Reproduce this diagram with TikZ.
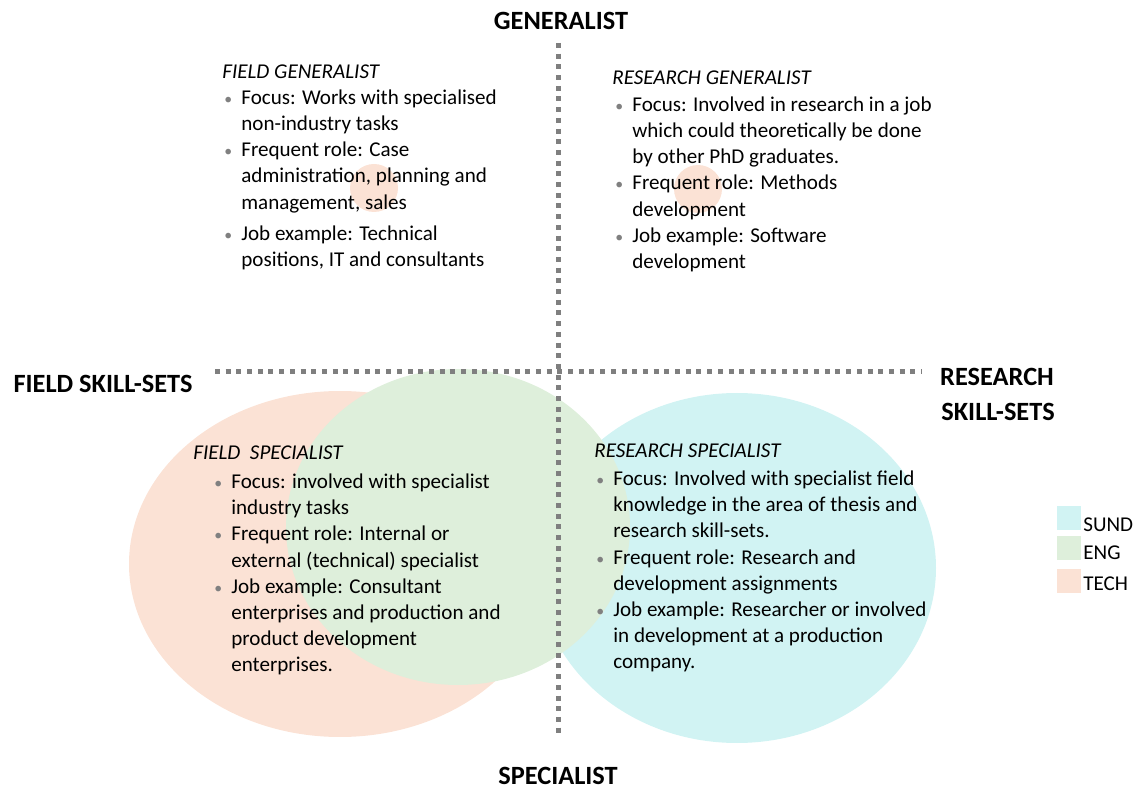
\documentclass[tikz,border=0pt]{standalone}
\usepackage{fontspec}
\setmainfont{Carlito}
\definecolor{techfill}{HTML}{FBE2D5}
\definecolor{engfill}{HTML}{DEEFDB}
\definecolor{sundfill}{HTML}{D1F3F3}
\definecolor{axisgray}{HTML}{7F7F7F}
\definecolor{bulletgray}{HTML}{808080}
\newcommand{\itm}[1]{\makebox[0.34cm][l]{\textcolor{bulletgray}{\fontsize{9}{9}\selectfont\textbullet}}#1}
\newcommand{\cnt}[1]{\hspace*{0.34cm}#1}
\tikzset{
  axisline/.style={draw=axisgray, line width=0.1cm, dash pattern=on 0.1cm off 0.114cm},
  axislabel/.style={inner sep=0pt, font=\fontsize{15}{18}\selectfont\bfseries},
  blockhead/.style={anchor=west, inner sep=0pt, font=\fontsize{12}{14.8}\selectfont\itshape},
  blocklist/.style={anchor=north west, inner sep=0pt, align=left, font=\fontsize{12}{14.8}\selectfont},
  legendtext/.style={anchor=base west, inner sep=0pt, font=\fontsize{12}{14.8}\selectfont}
}
\begin{document}
\begin{tikzpicture}[x=0.02cm, y=-0.02cm]
  \useasboundingbox (0,0) rectangle (1137,787);
  %%%%% START %%%%%
  % skill-set areas
  \fill[techfill] (340,564) ellipse (211 and 173);
  \fill[sundfill] (737,568) ellipse (199 and 175);
  \fill[engfill] (458,527) ellipse (172 and 158);
  \fill[techfill] (374,188) circle (24);
  \fill[techfill] (698,189) circle (24);

  % axes
  \draw[axisline] (558,43) -- (558,733);
  \draw[axisline] (215,372) -- (922,372);

  \node[axislabel] (generalist) at (561,21) {GENERALIST};
  \node[axislabel] (specialist) at (558,776) {SPECIALIST};
  \node[axislabel] (fieldskill) at (103,384) {FIELD SKILL-SETS};
  \node[axislabel] (researchskill) at (997,377) {RESEARCH};
  \node[axislabel] (researchskilltwo) at (998,412) {SKILL-SETS};

  % field generalist
  \node[blockhead] (fgenhead) at (222,72) {FIELD GENERALIST};
  \node[blocklist] (fgenlist) at (224,90) {%
    \itm{Focus: Works with specialised}\\
    \cnt{non-industry tasks}\\
    \itm{Frequent role: Case}\\
    \cnt{administration, planning and}\\
    \cnt{management, sales}\\[0.1cm]
    \itm{Job example: Technical}\\
    \cnt{positions, IT and consultants}};

  % research generalist
  \node[blockhead] (rgenhead) at (612,78) {RESEARCH GENERALIST};
  \node[blocklist] (rgenlist) at (615,97) {%
    \itm{Focus: Involved in research in a job}\\
    \cnt{which could theoretically be done}\\
    \cnt{by other PhD graduates.}\\
    \itm{Frequent role: Methods}\\
    \cnt{development}\\
    \itm{Job example: Software}\\
    \cnt{development}};

  % field specialist
  \node[blockhead] (fspechead) at (193,453) {FIELD\ \ SPECIALIST};
  \node[blocklist] (fspeclist) at (214,474) {%
    \itm{Focus: involved with specialist}\\
    \cnt{industry tasks}\\
    \itm{Frequent role: Internal or}\\
    \cnt{external (technical) specialist}\\
    \itm{Job example: Consultant}\\
    \cnt{enterprises and production and}\\
    \cnt{product development}\\
    \cnt{enterprises.}};

  % research specialist
  \node[blockhead] (rspechead) at (594,451) {RESEARCH SPECIALIST};
  \node[blocklist] (rspeclist) at (596,471) {%
    \itm{Focus: Involved with specialist field}\\
    \cnt{knowledge in the area of thesis and}\\
    \cnt{research skill-sets.}\\
    \itm{Frequent role: Research and}\\
    \cnt{development assignments}\\
    \itm{Job example: Researcher or involved}\\
    \cnt{in development at a production}\\
    \cnt{company.}};

  % legend
  \fill[sundfill] (1057,506) rectangle (1081,530);
  \fill[engfill] (1057,536) rectangle (1081,560);
  \fill[techfill] (1057,569) rectangle (1081,593);
  \node[legendtext] (sund) at (1083,531) {SUND};
  \node[legendtext] (eng) at (1083,560) {ENG};
  \node[legendtext] (tech) at (1083,590) {TECH};
  %%%%% END %%%%%
\end{tikzpicture}
\end{document}
